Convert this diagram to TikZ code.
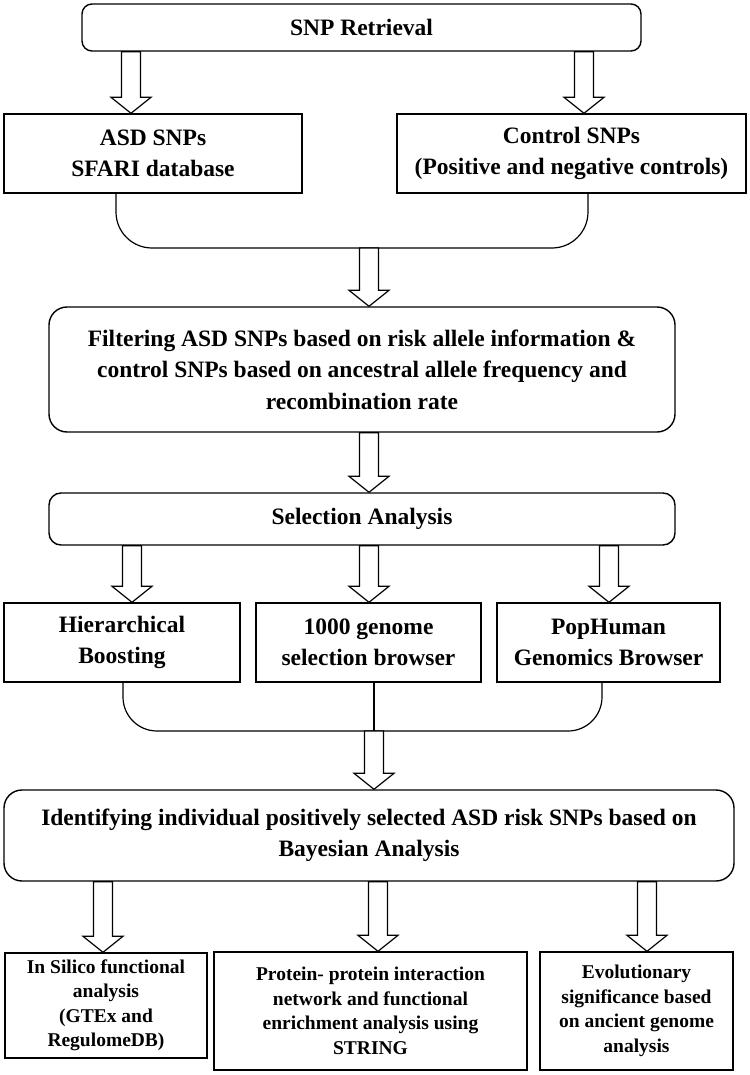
\documentclass[tikz,border=0pt]{standalone}
\usepackage{fontspec}
\setmainfont{Liberation Serif}
\usetikzlibrary{calc}

\tikzset{
  box/.style={draw, line width=1.4pt, align=center, inner sep=0pt,
    font=\bfseries\fontsize{23.5}{31.5}\selectfont},
  roundbox/.style={box, rounded corners=#1},
  roundbox/.default=12pt,
  smallbox/.style={box, font=\bfseries\fontsize{19.5}{24.5}\selectfont},
  brace/.style={draw, line width=1.2pt, rounded corners=#1},
  brace/.default=36pt,
  hollow/.style={draw, fill=white, line width=1.2pt, to path={
      let \p1=(\tikztostart), \p2=(\tikztotarget) in
      (\x1-9.5pt,\y1) -- (\x1-9.5pt,\y2+16pt) -- (\x1-20pt,\y2+16pt)
      -- (\x1,\y2) -- (\x1+20pt,\y2+16pt) -- (\x1+9.5pt,\y2+16pt)
      -- (\x1+9.5pt,\y1) -- cycle}},
}

\begin{document}
\begin{tikzpicture}[x=1pt, y=-1pt]
	\useasboundingbox (0,0) rectangle (749,1075);
	
	% boxes
	\node [roundbox=10pt, minimum width=559pt, minimum height=47pt] (retr) at (361.5,27.5) {SNP Retrieval};
	\node [box, minimum width=298pt, minimum height=79pt] (asd) at (153,153.5) {ASD SNPs\\SFARI database};
	\node [box, minimum width=349pt, minimum height=79pt] (ctrl) at (571.5,153.5) {Control SNPs\\(Positive and negative controls)};
	\node [roundbox=18pt, minimum width=626pt, minimum height=125pt] (filt) at (362,369.5)
	  {Filtering ASD SNPs based on risk allele information \&\\control SNPs based on ancestral allele frequency and\\recombination rate};
	\node [roundbox, minimum width=626pt, minimum height=52pt] (sel) at (362,519) {Selection Analysis};
	\node [box, minimum width=236pt, minimum height=79pt] (hier) at (122,642.5) {Hierarchical\\Boosting};
	\node [box, minimum width=225pt, minimum height=79pt] (thou) at (368.5,642.5) {1000 genome\\selection browser};
	\node [box, minimum width=223pt, minimum height=79pt] (pop) at (608.5,642.5) {PopHuman\\Genomics Browser};
	\node [roundbox=18pt, minimum width=730pt, minimum height=91pt] (ident) at (369,835.5)
	  {Identifying individual positively selected ASD risk SNPs based on\\Bayesian Analysis};
	\node [smallbox, minimum width=202pt, minimum height=105pt] (silico) at (106,1005.5)
	  {In Silico functional\\analysis\\(GTEx and\\RegulomeDB)};
	\node [smallbox, minimum width=313pt, minimum height=118pt] (ppi) at (370.5,1011)
	  {Protein- protein interaction\\network and functional\\enrichment analysis using\\STRING};
	\node [smallbox, minimum width=193pt, minimum height=118pt] (evo) at (636.5,1011)
	  {Evolutionary\\significance based\\on ancient genome\\analysis};
	
	\coordinate (join1) at (369,248);
	\coordinate (join2) at (374,731);
	
	% arrows
	\foreach \nd/\cx in {asd/131, ctrl/584}
	  \draw [hollow] (retr.south -| \cx,0) to (\nd.north -| \cx,0);
	
	\draw [brace] (asd.south -| 116,0) |- (join1) -| (ctrl.south -| 588,0);
	\draw [hollow] (join1) to (filt.north -| join1);
	
	\draw [hollow] (filt.south -| 369,0) to (sel.north -| 369,0);
	
	\foreach \nd/\cx in {hier/132, thou/369, pop/609}
	  \draw [hollow] (sel.south -| \cx,0) to (\nd.north -| \cx,0);
	
	\draw [brace=34pt] (hier.south -| 123,0) |- (join2) -| (pop.south -| 602,0);
	\draw [line width=1.2pt] (thou.south -| join2) -- (join2);
	\draw [hollow] (join2) to (ident.north -| join2);
	
	\foreach \nd/\cx in {silico/103, ppi/378, evo/647}
	  \draw [hollow] (ident.south -| \cx,0) to (\nd.north -| \cx,0);
	
\end{tikzpicture}
\end{document}
